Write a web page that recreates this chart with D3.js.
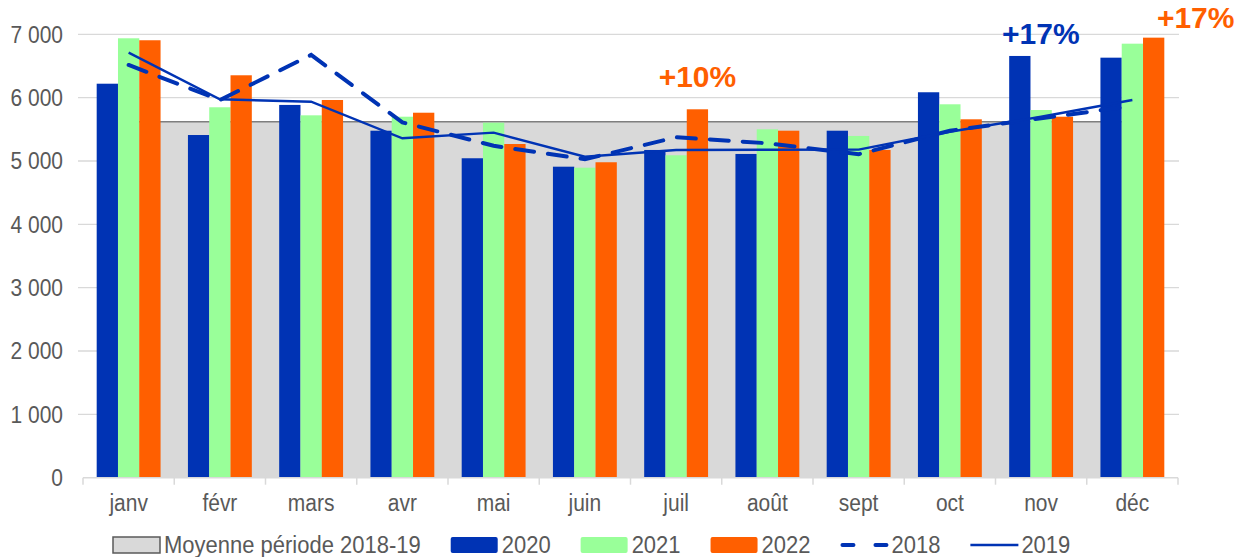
<!DOCTYPE html>
<html lang="fr">
<head>
<meta charset="UTF-8">
<title>Moyenne mensuelle</title>
<script src="https://d3js.org/d3.v7.min.js"></script>
<style>
    body { margin: 0; background: #fff; }
    svg { font-family: "Liberation Sans", Arial, sans-serif; }
    .tick-label { fill: #595959; font-size: 21px; }
    .legend-label { fill: #595959; font-size: 22px; }
    .annot { font-weight: bold; font-size: 30px; }
</style>
</head>
<body>
<div id="chart"></div>
<script>
    const months = ["janv", "févr", "mars", "avr", "mai", "juin", "juil", "août", "sept", "oct", "nov", "déc"];
    const moyenne = [5620, 5620, 5620, 5620, 5620, 5620, 5620, 5620, 5620, 5620, 5620, 5620];
    const v2020 = [6220, 5410, 5885, 5478, 5043, 4910, 5174, 5111, 5478, 6085, 6658, 6631];
    const v2021 = [6937, 5848, 5721, 5699, 5605, 4894, 5090, 5500, 5395, 5895, 5805, 6852];
    const v2022 = [6906, 6353, 5963, 5762, 5268, 4980, 5816, 5478, 5174, 5658, 5699, 6947];
    const v2018 = [6516, 5963, 6674, 5610, 5240, 5027, 5374, 5280, 5107, 5478, 5674, 5868];
    const v2019 = [6710, 5974, 5936, 5358, 5447, 5068, 5174, 5178, 5180, 5462, 5699, 5963];
    const yTicks = [0, 1000, 2000, 3000, 4000, 5000, 6000, 7000];
    const yTickLabels = ["0", "1 000", "2 000", "3 000", "4 000", "5 000", "6 000", "7 000"];
    const barSeries = ["2020", "2021", "2022"];
    const annotations = [
        { month: "juil", text: "+10%", series: "2022" },
        { month: "nov", text: "+17%", series: "2020" },
        { month: "déc", text: "+17%", series: "2022" }
    ];

    const blue = "#0033b4", green = "#99ff99", orange = "#ff5f00";
    const colors = { "2020": blue, "2021": green, "2022": orange };
    const barValues = { "2020": v2020, "2021": v2021, "2022": v2022 };

    const width = 1248, height = 557;
    const plotLeft = 83, plotRight = 1178, plotTop = 34.3, plotBottom = 477.7;
    const stretch = 1.12; // text in the original is slightly tall

    const svg = d3.select("#chart").append("svg")
        .attr("width", width)
        .attr("height", height);

    const x = d3.scaleBand().domain(months).range([plotLeft, plotRight]).padding(0);
    const bw = x.bandwidth();
    const groupW = bw * 0.70;
    const xs = d3.scaleBand().domain(barSeries)
        .range([(bw - groupW) / 2, (bw + groupW) / 2]).padding(0);
    const y = d3.scaleLinear().domain([0, 7000]).range([plotBottom, plotTop]);
    const cx = m => x(m) + bw / 2;

    // gridlines + y labels
    svg.append("g").selectAll("line")
        .data(yTicks.filter(t => t > 0))
        .join("line")
        .attr("x1", plotLeft - 5).attr("x2", plotRight + 1)
        .attr("y1", d => y(d)).attr("y2", d => y(d))
        .attr("stroke", "#d9d9d9").attr("stroke-width", 1.3);

    svg.append("g").selectAll("text")
        .data(yTicks)
        .join("text")
        .attr("class", "tick-label")
        .attr("transform", d => `translate(63,${y(d)}) scale(1,${stretch})`)
        .attr("dy", "0.36em")
        .attr("text-anchor", "end")
        .text((d, i) => yTickLabels[i]);

    // average area (janv centre -> déc centre)
    const area = d3.area().x((d, i) => cx(months[i])).y0(y(0)).y1(d => y(d));
    svg.append("path").datum(moyenne)
        .attr("d", area)
        .attr("fill", "#d9d9d9");
    svg.append("path").datum(moyenne)
        .attr("d", d3.line().x((d, i) => cx(months[i])).y(d => y(d)))
        .attr("fill", "none")
        .attr("stroke", "#7f7f7f")
        .attr("stroke-width", 1.5);

    // bars
    barSeries.forEach(s => {
        svg.append("g").selectAll("rect")
            .data(barValues[s])
            .join("rect")
            .attr("x", (d, i) => x(months[i]) + xs(s))
            .attr("y", d => y(d))
            .attr("width", xs.bandwidth())
            .attr("height", d => y(0) - y(d))
            .attr("fill", colors[s]);
    });

    // x axis
    svg.append("line")
        .attr("x1", plotLeft).attr("x2", plotRight)
        .attr("y1", y(0)).attr("y2", y(0))
        .attr("stroke", "#d9d9d9").attr("stroke-width", 1.5);
    svg.append("g").selectAll("line")
        .data(months.concat(["end"]))
        .join("line")
        .attr("x1", (d, i) => plotLeft + i * bw).attr("x2", (d, i) => plotLeft + i * bw)
        .attr("y1", y(0)).attr("y2", y(0) + 7)
        .attr("stroke", "#d9d9d9").attr("stroke-width", 1.5);
    svg.append("g").selectAll("text")
        .data(months)
        .join("text")
        .attr("class", "tick-label")
        .attr("transform", d => `translate(${cx(d)},511) scale(1,${stretch})`)
        .attr("text-anchor", "middle")
        .text(d => d);

    // lines 2018 / 2019
    const line = d3.line().x((d, i) => cx(months[i])).y(d => y(d));
    svg.append("path").datum(v2018)
        .attr("d", line)
        .attr("fill", "none")
        .attr("stroke", blue)
        .attr("stroke-width", 4)
        .attr("stroke-linecap", "round")
        .attr("stroke-dasharray", "19 14");
    svg.append("path").datum(v2019)
        .attr("d", line)
        .attr("fill", "none")
        .attr("stroke", blue)
        .attr("stroke-width", 2.4);

    // annotations
    const annotOffset = { "juil": [0, -22], "nov": [21, -12], "déc": [42, -10] };
    annotations.forEach(a => {
        const i = months.indexOf(a.month);
        const v = barValues[a.series][i];
        const bx = x(a.month) + xs(a.series) + xs.bandwidth() / 2;
        svg.append("text")
            .attr("class", "annot")
            .attr("x", bx + annotOffset[a.month][0])
            .attr("y", y(v) + annotOffset[a.month][1])
            .attr("text-anchor", "middle")
            .attr("fill", colors[a.series])
            .text(a.text);
    });

    // legend
    const legendItems = [
        { name: "Moyenne période 2018-19", type: "box", fill: "#d9d9d9", stroke: "#595959" },
        { name: "2020", type: "box", fill: blue },
        { name: "2021", type: "box", fill: green },
        { name: "2022", type: "box", fill: orange },
        { name: "2018", type: "dash" },
        { name: "2019", type: "line" }
    ];
    const legend = svg.append("g");
    let lx = 113;
    const ly = 545;
    legendItems.forEach(it => {
        const g = legend.append("g");
        if (it.type === "box") {
            g.append("rect")
                .attr("x", lx).attr("y", ly - 8)
                .attr("width", 47).attr("height", 16)
                .attr("rx", it.stroke ? 0 : 2)
                .attr("fill", it.fill)
                .attr("stroke", it.stroke || "none")
                .attr("stroke-width", 1.5);
        } else if (it.type === "dash") {
            g.append("line")
                .attr("x1", lx + 2).attr("x2", lx + 46)
                .attr("y1", ly).attr("y2", ly)
                .attr("stroke", blue).attr("stroke-width", 4)
                .attr("stroke-linecap", "round")
                .attr("stroke-dasharray", "11 22");
        } else {
            g.append("line")
                .attr("x1", lx).attr("x2", lx + 48)
                .attr("y1", ly).attr("y2", ly)
                .attr("stroke", blue).attr("stroke-width", 2.4);
        }
        const t = g.append("text")
            .attr("class", "legend-label")
            .attr("transform", `translate(${lx + 51},${ly + 7.5}) scale(1,${stretch})`)
            .text(it.name);
        lx += 51 + t.node().getComputedTextLength() + 30;
    });
</script>
</body>
</html>
